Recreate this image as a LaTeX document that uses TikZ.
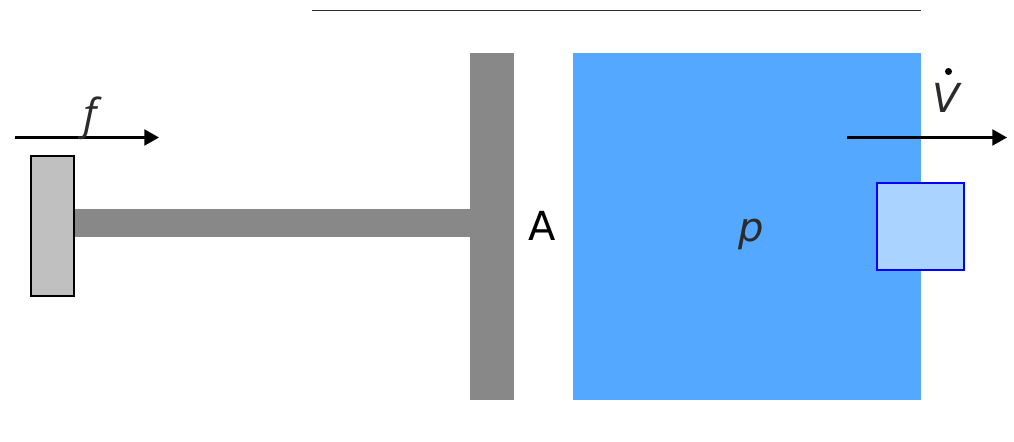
\documentclass[tikz,border=0pt]{standalone}
\usepackage{fontspec}
\setmainfont{DejaVu Sans}
\newfontfamily\forcefont{Open Sans}
\usetikzlibrary{arrows.meta}
\definecolor{rodgray}{HTML}{888888}
\definecolor{handlegray}{HTML}{C0C0C0}
\definecolor{fluidblue}{HTML}{55A8FF}
\definecolor{portblue}{HTML}{AAD4FF}
\definecolor{labelgray}{HTML}{2B2B2B}

\begin{document}
\begin{tikzpicture}[x=0.75pt,y=-0.75pt,>={Triangle[length=11pt,width=12pt]},
                    every node/.append style={inner sep=0pt,outer sep=0pt},
                    solid part/.style={fill=rodgray},
                    force/.style={->,line width=1.6pt},
                    label/.style={font=\fontsize{30pt}{30pt}\selectfont,text=labelgray}]
\useasboundingbox (0,0) rectangle (1014,442);

\coordinate (top0) at (312,10.5);
\coordinate (top1) at (921,10.5);
\draw[line width=0.7pt,labelgray] (top0) -- (top1);

\node [solid part,minimum width=396*0.75pt,minimum height=28*0.75pt] (rod) at (272,223) {};
\node [solid part,minimum width=44.5*0.75pt,minimum height=347*0.75pt] (plate) at (491.75,226.5) {};
\node [fill=handlegray,draw=black,line width=0.8pt,minimum width=43*0.75pt,minimum height=140*0.75pt] (handle) at (52.5,226) {};
\node [fill=fluidblue,minimum width=348*0.75pt,minimum height=347*0.75pt] (fluid) at (747,226.5) {};
\node [fill=portblue,draw=blue,line width=0.8pt,minimum width=87*0.75pt,minimum height=87*0.75pt] (port) at (920.5,226.5) {};

\coordinate (f0) at (15,137.5);
\coordinate (f1) at (159,137.5);
\coordinate (v0) at (847,137.5);
\coordinate (v1) at (1007,137.5);
\draw[force] (f0) -- (f1);
\draw[force] (v0) -- (v1);

\node [label,font=\fontsize{32pt}{32pt}\selectfont\forcefont\itshape,anchor=base] (flabel) at (90,130) {f};
\node [label,font=\fontsize{30pt}{30pt}\selectfont\itshape,anchor=base] (vlabel) at (946.5,112.5) {V};
\node [circle,fill=black,minimum size=7*0.75pt] (vdot) at (948.5,71.5) {};
\node [label,font=\fontsize{30pt}{30pt}\selectfont\itshape,anchor=base] (plabel) at (751,242) {p};
\node [label,text=black,anchor=base] (alabel) at (542,241) {A};
\end{tikzpicture}
\end{document}
